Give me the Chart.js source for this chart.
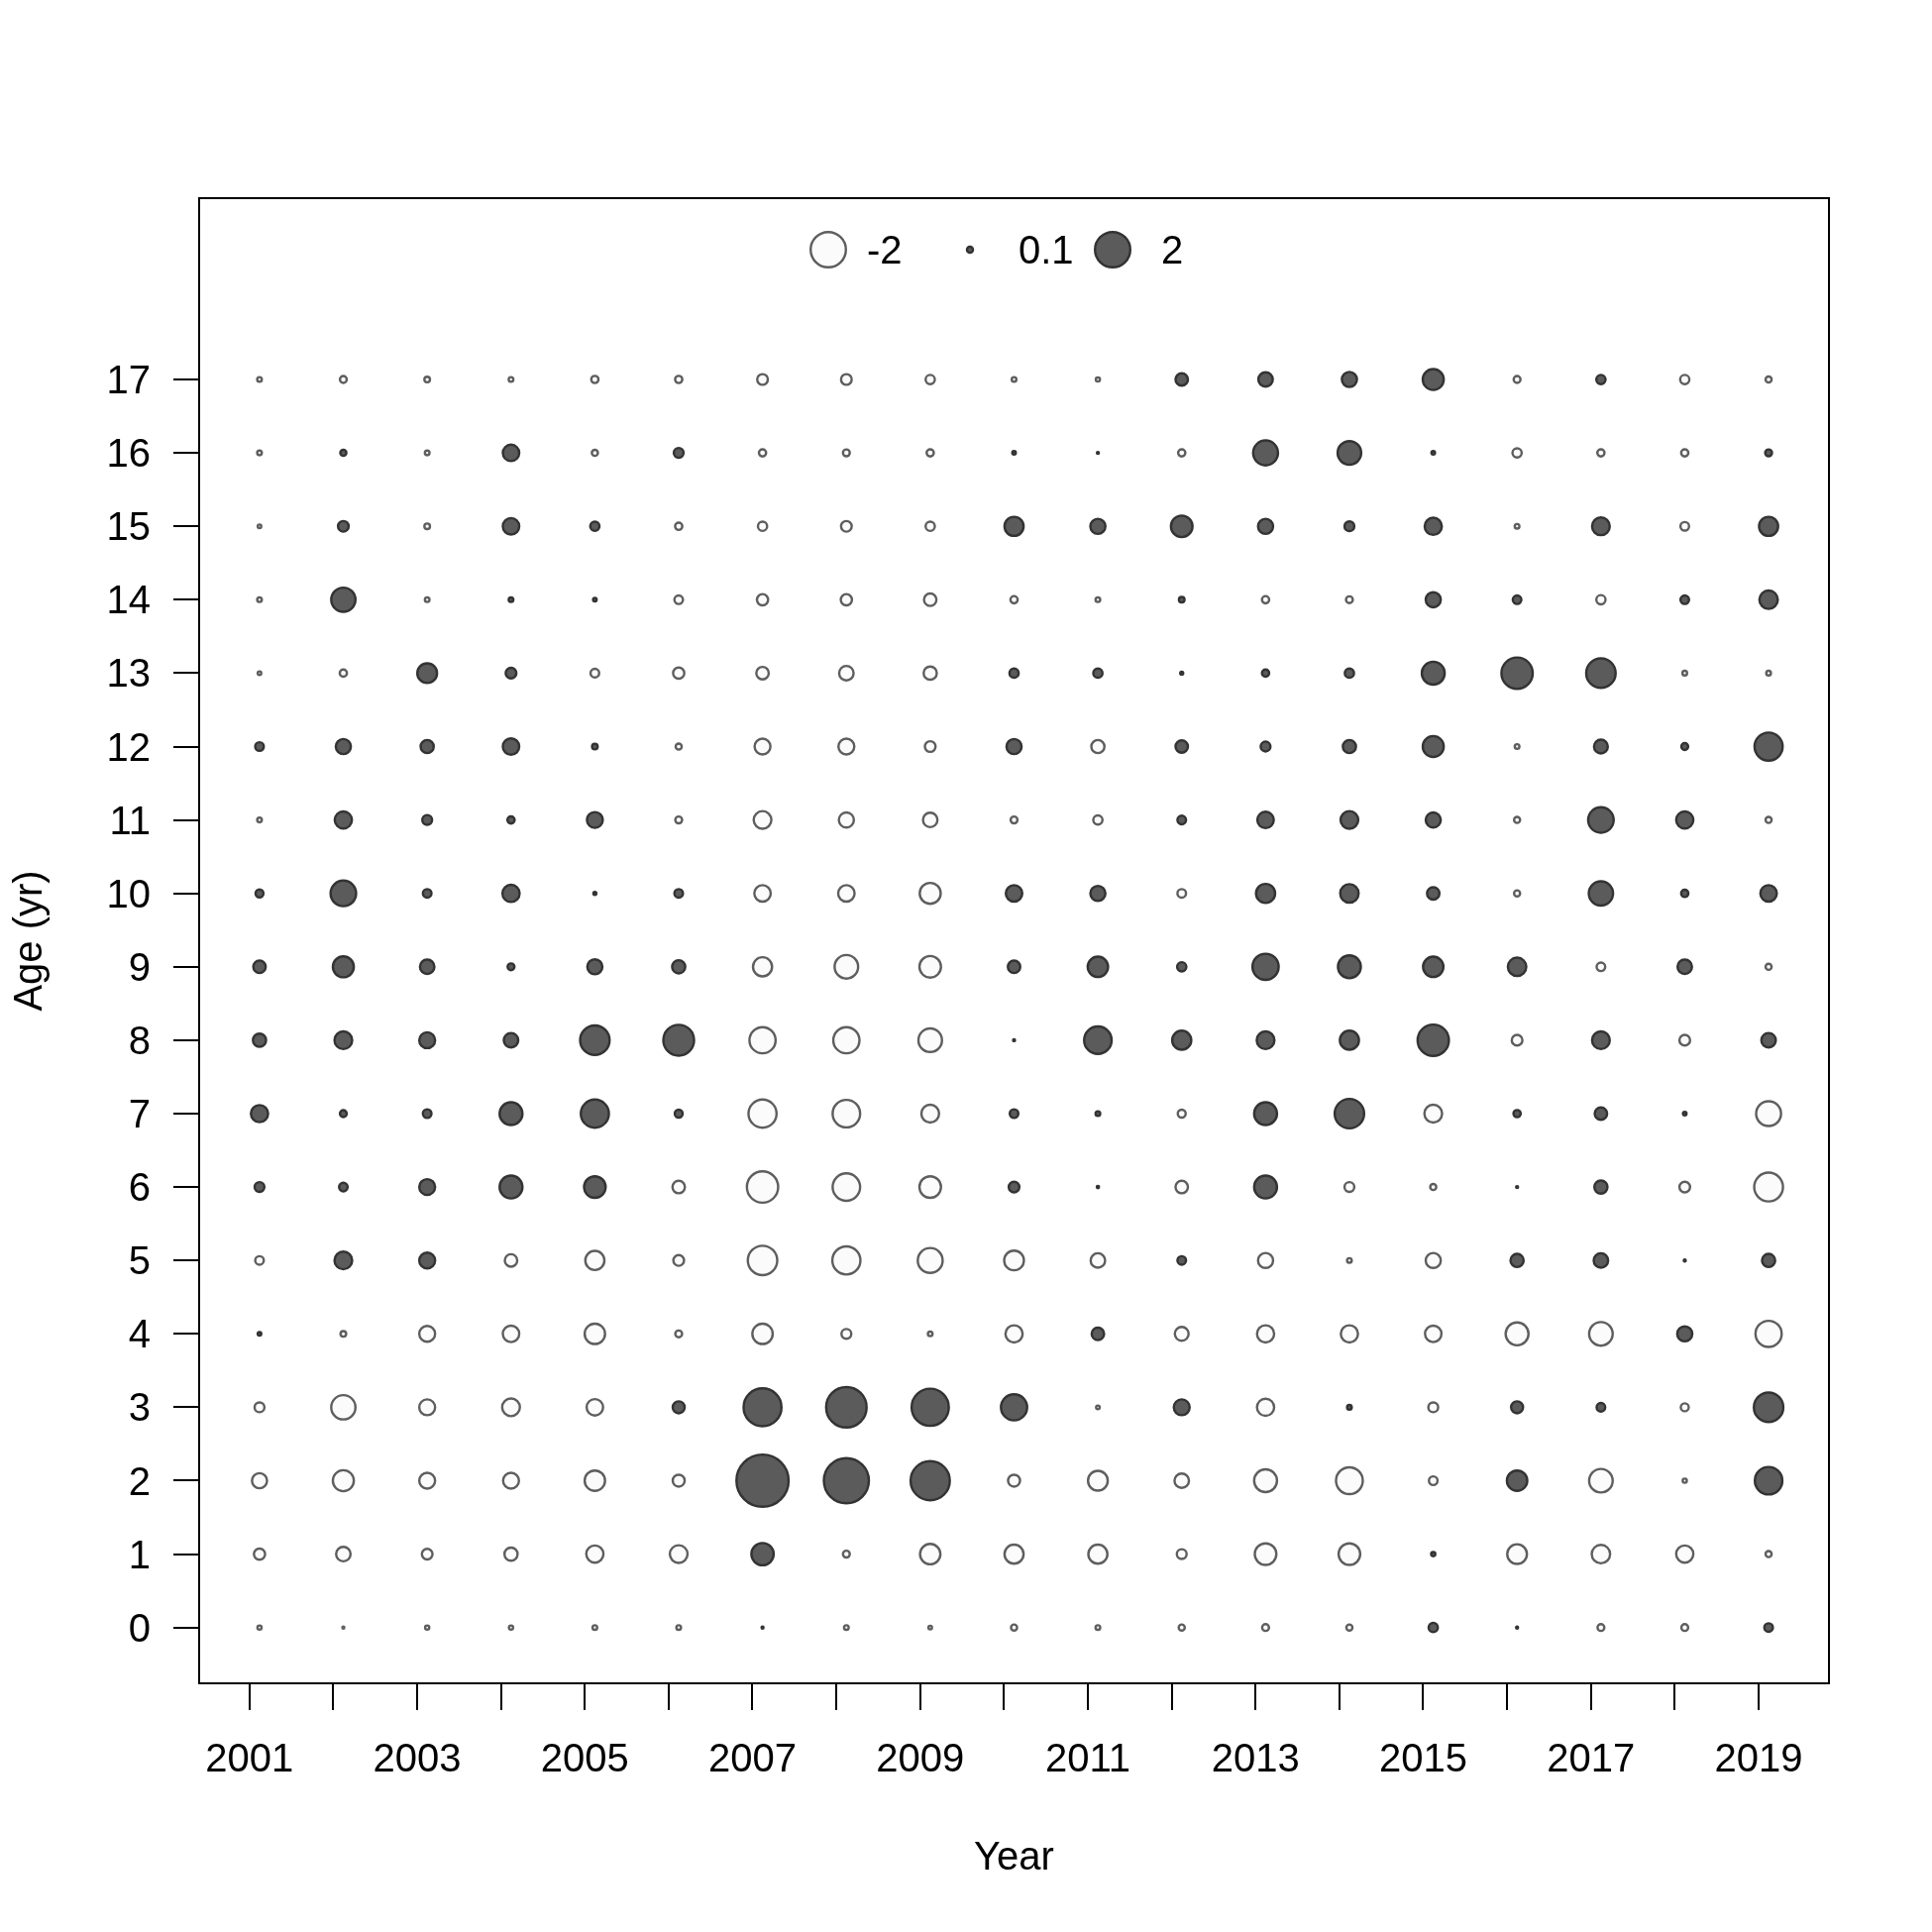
<!DOCTYPE html>
<html>
<head>
<meta charset="utf-8">
<script src="https://cdn.jsdelivr.net/npm/chart.js@4/dist/chart.umd.min.js"></script>
<style>
  html, body { margin: 0; padding: 0; background: #fff; }
  canvas { display: block; }
</style>
</head>
<body>
<canvas id="bubbles" width="1950" height="1950"></canvas>
<script>
  const years = [2001, 2002, 2003, 2004, 2005, 2006, 2007, 2008, 2009, 2010,
                 2011, 2012, 2013, 2014, 2015, 2016, 2017, 2018, 2019];
  const ages = [0, 1, 2, 3, 4, 5, 6, 7, 8, 9, 10, 11, 12, 13, 14, 15, 16, 17];

  // Pearson residuals by age, one value per year (2001..2019)
  const age0  = [-0.06, -0.02, -0.06, -0.06, -0.07, -0.07, 0.015, -0.07, -0.05, -0.10, -0.07, -0.10, -0.12, -0.10, 0.19, 0.015, -0.12, -0.12, 0.17];
  const age1  = [-0.26, -0.40, -0.24, -0.34, -0.54, -0.57, 0.86, -0.12, -0.73, -0.65, -0.65, -0.21, -0.81, -0.81, 0.06, -0.69, -0.61, -0.54, -0.10];
  const age2  = [-0.43, -0.77, -0.47, -0.47, -0.73, -0.29, 4.20, 3.17, 2.44, -0.29, -0.69, -0.40, -0.90, -1.20, -0.17, 0.73, -0.95, -0.06, 1.26];
  const age3  = [-0.21, -1.00, -0.47, -0.57, -0.50, 0.29, 2.29, 2.59, 2.21, 1.15, -0.05, 0.47, -0.54, 0.07, -0.21, 0.29, 0.17, -0.15, 1.43];
  const age4  = [0.05, -0.09, -0.47, -0.50, -0.73, -0.12, -0.73, -0.21, -0.07, -0.54, 0.31, -0.37, -0.54, -0.54, -0.50, -0.90, -0.95, 0.43, -1.15];
  const age5  = [-0.17, 0.57, 0.47, -0.31, -0.65, -0.24, -1.43, -1.31, -1.05, -0.69, -0.40, 0.17, -0.43, -0.07, -0.43, 0.34, 0.40, 0.02, 0.34];
  const age6  = [0.21, 0.17, 0.47, 0.90, 0.81, -0.31, -1.60, -1.26, -0.81, 0.24, 0.03, -0.31, 0.90, -0.21, -0.10, 0.02, 0.34, -0.24, -1.37];
  const age7  = [0.54, 0.12, 0.17, 0.90, 1.31, 0.15, -1.31, -1.26, -0.57, 0.17, 0.07, -0.15, 0.90, 1.43, -0.57, 0.13, 0.31, 0.05, -1.05];
  const age8  = [0.34, 0.57, 0.47, 0.40, 1.43, 1.55, -1.15, -1.15, -0.95, 0.015, 1.26, 0.65, 0.57, 0.65, 1.60, -0.24, 0.57, -0.24, 0.40];
  const age9  = [0.31, 0.77, 0.40, 0.12, 0.43, 0.34, -0.65, -0.95, -0.81, 0.31, 0.73, 0.19, 1.15, 0.90, 0.73, 0.61, -0.17, 0.40, -0.10];
  const age10 = [0.15, 1.10, 0.17, 0.54, 0.04, 0.17, -0.50, -0.50, -0.77, 0.50, 0.43, -0.17, 0.65, 0.61, 0.31, -0.10, 1.00, 0.13, 0.50];
  const age11 = [-0.07, 0.54, 0.21, 0.13, 0.47, -0.12, -0.57, -0.43, -0.40, -0.12, -0.19, 0.17, 0.50, 0.57, 0.43, -0.10, 1.10, 0.54, -0.10];
  const age12 = [0.17, 0.43, 0.34, 0.50, 0.09, -0.10, -0.47, -0.47, -0.24, 0.43, -0.34, 0.31, 0.21, 0.34, 0.77, -0.07, 0.37, 0.12, 1.31];
  const age13 = [-0.05, -0.13, 0.69, 0.24, -0.17, -0.26, -0.31, -0.40, -0.34, 0.19, 0.19, 0.04, 0.13, 0.19, 0.90, 1.60, 1.43, -0.07, -0.07];
  const age14 = [-0.07, 1.00, -0.07, 0.07, 0.05, -0.17, -0.26, -0.26, -0.31, -0.13, -0.07, 0.09, -0.13, -0.12, 0.43, 0.17, -0.19, 0.17, 0.61];
  const age15 = [-0.05, 0.24, -0.09, 0.50, 0.19, -0.13, -0.19, -0.24, -0.19, 0.65, 0.43, 0.81, 0.43, 0.21, 0.54, -0.07, 0.57, -0.17, 0.65];
  const age16 = [-0.07, 0.10, -0.07, 0.50, -0.10, 0.21, -0.13, -0.12, -0.13, 0.05, 0.015, -0.13, 1.05, 0.95, 0.05, -0.19, -0.13, -0.13, 0.12];
  const age17 = [-0.07, -0.12, -0.09, -0.07, -0.13, -0.13, -0.24, -0.24, -0.19, -0.07, -0.06, 0.31, 0.40, 0.43, 0.77, -0.12, 0.19, -0.19, -0.10];

  const residuals = [age0, age1, age2, age3, age4, age5, age6, age7, age8, age9,
                     age10, age11, age12, age13, age14, age15, age16, age17];
  const legendValues = [-2, 0.1, 2];
  const yearOffset = 0.12;   // samples sit a little after the start of the year

  const posFill = '#5b5b5b', posLine = '#333333';
  const negFill = '#fbfbfb', negLine = '#5e5e5e';
  const radiusAt2 = 19;      // px, outer radius of a bubble with |resid| = 2

  Chart.defaults.font.family = '"Liberation Sans", Arial, sans-serif';
  Chart.defaults.color = '#000';

  function bubbleRadius(v) {
    return Math.max(radiusAt2 * Math.sqrt(Math.abs(v) / 2) - 1.2, 1);
  }

  const posPts = [];
  const negPts = [];
  ages.forEach((age, i) => {
    residuals[i].forEach((v, j) => {
      const p = { x: years[j] + yearOffset, y: age, r: bubbleRadius(v) };
      (v > 0 ? posPts : negPts).push(p);
    });
  });

  const framePlugin = {
    id: 'frame',
    afterDraw(chart) {
      const { ctx, chartArea } = chart;
      ctx.save();
      ctx.strokeStyle = '#000';
      ctx.lineWidth = 2;
      ctx.strokeRect(chartArea.left, chartArea.top, chartArea.right - chartArea.left, chartArea.bottom - chartArea.top);
      ctx.restore();
    }
  };

  // horizontal size legend at the top of the plot
  const legendPlugin = {
    id: 'bubbleLegend',
    afterDraw(chart) {
      const { ctx, chartArea } = chart;
      const cy = chartArea.top + 52;
      const spots = [[635, 674], [778, 827], [922, 971]];
      ctx.save();
      ctx.font = '40px "Liberation Sans", Arial, sans-serif';
      ctx.textBaseline = 'middle';
      legendValues.forEach((v, i) => {
        const x = chartArea.left + spots[i][0];
        ctx.beginPath();
        ctx.arc(x, cy, bubbleRadius(v), 0, Math.PI * 2);
        ctx.fillStyle = v > 0 ? posFill : negFill;
        ctx.fill();
        ctx.lineWidth = 2.4;
        ctx.strokeStyle = v > 0 ? posLine : negLine;
        ctx.stroke();
        ctx.fillStyle = '#000';
        ctx.fillText(String(v), chartArea.left + spots[i][1], cy + 3);
      });
      ctx.restore();
    }
  };

  new Chart(document.getElementById('bubbles'), {
    type: 'bubble',
    data: {
      datasets: [
        { label: 'negative', data: negPts, backgroundColor: negFill, borderColor: negLine, borderWidth: 2.4 },
        { label: 'positive', data: posPts, backgroundColor: posFill, borderColor: posLine, borderWidth: 2.4 }
      ]
    },
    options: {
      responsive: false,
      animation: false,
      events: [],
      layout: { padding: { top: 200, right: 104, left: 0, bottom: 0 } },
      plugins: { legend: { display: false }, tooltip: { enabled: false } },
      scales: {
        x: {
          type: 'linear',
          min: 2000.4,
          max: 2019.84,
          afterBuildTicks: s => { s.ticks = years.map(v => ({ value: v })); },
          afterFit: s => { s.height = 251; },
          border: { display: false },
          grid: { drawOnChartArea: false, drawTicks: true, tickLength: 27, color: '#000', lineWidth: 2 },
          ticks: {
            autoSkip: false,
            maxRotation: 0,
            padding: 27,
            font: { size: 40 },
            callback: v => (v % 2 === 1 ? String(v) : '')
          },
          title: { display: true, text: 'Year', font: { size: 40 }, padding: { top: 0, bottom: 50 } }
        },
        y: {
          type: 'linear',
          min: -0.76,
          max: 19.47,
          afterBuildTicks: s => { s.ticks = ages.map(v => ({ value: v })); },
          afterFit: s => { s.width = 201; },
          border: { display: false },
          grid: { drawOnChartArea: false, drawTicks: true, tickLength: 26, color: '#000', lineWidth: 2 },
          ticks: { padding: 23, labelOffset: 3, font: { size: 40 }, callback: v => String(v) },
          title: { display: true, text: 'Age (yr)', font: { size: 40 }, padding: { top: 7, bottom: 0 } }
        }
      }
    },
    plugins: [framePlugin, legendPlugin]
  });
</script>
</body>
</html>
